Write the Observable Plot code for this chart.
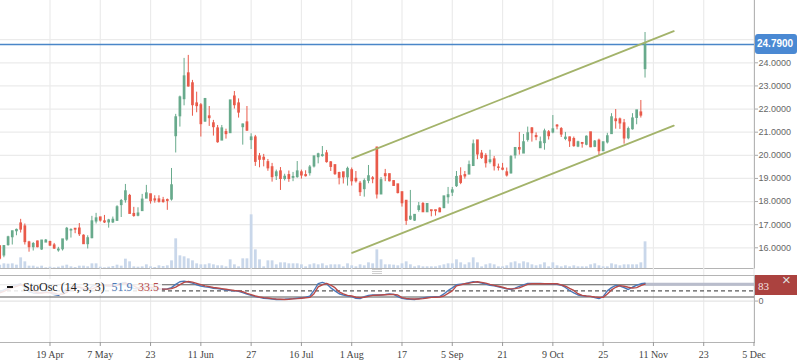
<!DOCTYPE html>
<html>
<head>
<meta charset="utf-8">
<script src="https://cdn.jsdelivr.net/npm/d3@7"></script>
<script src="https://cdn.jsdelivr.net/npm/@observablehq/plot@0.6"></script>
<style>
  html, body { margin: 0; padding: 0; background: #fff; }
  #chart { position: relative; width: 798px; height: 363px; overflow: hidden; background: #fff; }
  #chart svg { position: absolute; left: 0; }
  .badge { position: absolute; box-sizing: border-box; }
  #legend { position: absolute; left: 0; top: 279px; width: 162px; height: 16px; background: rgba(255,255,255,0.85);
            font-family: "Liberation Serif", "Times New Roman", serif; font-size: 12px; line-height: 16px; white-space: nowrap; }
  #legend span { position: absolute; top: 0; }
  #legend .icon { left: 7px; top: 7px; width: 6px; height: 2px; background: #111; }
  #handle { position: absolute; left: 372px; top: 269px; width: 10px; height: 5px;
            background: repeating-linear-gradient(#cfcfcf 0 1px, transparent 1px 2px); }
</style>
</head>
<body>
<div id="chart"></div>
<script>
// ---------------- data ----------------
const opens = [16.06,15.67,16.12,16.46,16.72,17.05,16.92,16.23,16.03,16.27,15.93,16.23,16.25,16.10,15.89,15.94,16.36,16.75,16.82,16.83,
16.52,16.16,16.42,17.14,17.31,17.14,17.10,17.10,17.17,17.85,18.06,18.24,17.46,17.39,17.59,18.13,18.31,18.09,18.09,18.05,
18.06,18.09,20.83,21.69,22.43,23.54,23.11,22.24,22.16,21.46,21.68,21.38,21.16,20.64,21.00,20.96,22.54,22.24,21.22,21.42,
20.66,20.77,19.95,19.89,19.70,19.48,19.10,19.30,18.98,19.14,19.03,19.06,19.26,19.14,19.23,19.52,19.92,19.97,20.08,19.69,
19.57,19.23,19.26,19.05,19.35,18.98,18.77,18.54,18.90,19.00,20.33,18.31,19.18,19.18,18.88,18.74,18.40,18.03,17.23,17.18,
17.64,17.89,17.54,17.62,17.62,17.69,17.72,18.19,18.39,18.67,19.09,19.14,19.17,19.54,20.64,20.07,19.97,19.71,19.82,19.47,
19.42,19.26,19.22,20.00,20.31,20.08,20.67,21.16,20.83,20.31,20.53,20.99,20.99,21.28,21.13,20.71,20.77,20.70,20.38,20.53,
20.46,20.99,20.37,20.63,20.18,20.56,20.92,21.55,21.55,21.38,20.74,21.13,21.62,21.85,23.73];
const highs = [16.10,16.10,16.50,16.72,16.81,17.23,17.03,16.28,16.23,16.29,16.32,16.36,16.28,16.19,16.02,16.36,16.88,16.82,16.82,17.05,
16.56,16.52,17.36,17.49,17.32,17.40,17.23,17.33,17.82,18.09,18.74,18.31,17.75,17.73,18.31,18.70,18.31,18.25,18.25,18.18,
18.11,19.43,21.77,22.56,24.19,24.32,23.24,22.73,22.24,22.46,22.11,21.51,21.29,21.29,21.13,22.37,22.76,22.44,21.35,22.11,
20.93,20.86,20.08,20.04,19.82,19.65,19.36,19.47,19.18,19.32,19.26,19.73,19.36,19.33,19.56,19.95,20.09,20.38,20.21,19.73,
19.57,19.27,19.26,19.49,19.45,19.30,18.87,18.98,19.56,19.08,20.35,19.04,19.39,19.18,18.90,18.74,18.40,18.03,18.48,17.42,
17.96,17.96,17.89,17.62,17.62,17.73,18.22,18.61,18.61,19.30,19.46,19.30,19.75,20.66,20.64,20.21,20.07,20.22,19.95,19.62,
19.65,19.45,19.99,20.34,20.99,20.90,21.22,21.20,20.97,20.79,21.13,21.07,21.72,21.33,21.20,20.99,20.79,20.79,20.61,20.54,
20.84,20.99,20.64,20.70,20.56,20.95,21.80,21.98,21.61,21.55,21.22,21.80,21.94,22.37,25.31];
const lows = [15.46,15.57,16.07,16.12,16.52,16.64,16.12,15.81,15.86,16.00,15.89,16.23,16.06,15.93,15.81,15.86,16.28,16.42,16.61,16.49,
16.16,15.95,16.39,17.03,17.11,17.05,16.85,17.05,17.14,17.31,17.93,17.47,17.32,17.34,17.59,18.13,17.89,17.93,17.93,17.93,
17.62,18.02,20.10,21.22,22.14,22.95,21.69,21.84,20.79,21.43,21.25,20.83,20.52,20.64,20.70,20.96,22.00,21.61,20.44,21.03,
20.25,19.52,19.46,19.50,19.31,18.84,18.91,18.48,18.89,18.83,18.86,19.01,18.97,19.06,19.10,19.45,19.63,19.92,19.66,19.30,
19.13,18.72,18.76,18.67,18.67,18.80,18.22,18.19,18.77,18.77,18.11,18.31,18.86,18.85,18.66,18.33,17.76,16.97,17.18,17.14,
17.54,17.53,17.53,17.34,17.37,17.52,17.69,17.89,18.22,18.61,18.73,18.97,19.17,19.54,19.81,19.82,19.45,19.62,19.32,19.32,
19.33,19.06,19.19,19.84,20.01,20.08,20.57,20.57,20.63,20.31,20.22,20.66,20.93,21.10,20.77,20.63,20.34,20.35,20.33,20.31,
20.41,20.33,20.33,19.97,20.17,20.49,20.92,21.13,21.12,20.48,20.67,21.09,21.32,21.61,23.34];
const closes = [15.53,16.07,16.45,16.71,16.77,16.79,16.25,16.03,16.16,16.03,16.31,16.31,16.10,15.97,15.92,16.36,16.82,16.77,16.79,16.59,
16.16,16.41,17.14,17.27,17.18,17.10,17.18,17.21,17.75,18.02,18.44,17.47,17.38,17.48,18.08,18.35,18.02,18.05,17.99,17.98,
18.03,18.70,21.64,22.50,23.41,22.98,22.17,22.13,21.35,22.43,21.61,21.22,20.57,21.16,20.92,22.37,22.17,21.85,21.33,21.07,
20.77,19.72,19.81,19.81,19.44,19.06,19.26,18.98,19.07,18.98,19.06,19.30,19.13,19.10,19.47,19.95,20.04,20.00,19.71,19.50,
19.19,19.03,19.05,19.41,18.88,18.88,18.41,18.88,19.09,18.97,18.31,18.92,19.10,18.88,18.68,18.37,17.93,17.17,17.34,17.42,
17.79,17.54,17.89,17.59,17.59,17.54,18.22,18.27,18.48,19.06,18.81,19.09,19.57,20.47,20.04,19.89,19.66,19.78,19.53,19.46,
19.38,19.13,19.92,20.31,20.25,20.56,20.95,20.96,20.79,20.56,21.03,20.83,21.12,21.25,20.90,20.76,20.61,20.40,20.56,20.50,
20.80,20.35,20.59,20.18,20.56,20.82,21.64,21.48,21.38,20.73,21.13,21.59,21.94,21.72,24.79];
const volumes = [10,14,13,14,10,32,20,7,7,4,7,2,4,2,4,7,10,5,3,7,
7,5,14,14,4,2,4,6,10,7,28,20,5,4,5,11,5,3,8,6,
8,23,89,38,35,29,23,14,11,11,14,11,8,8,5,26,11,5,29,29,
161,56,26,5,23,23,11,17,17,14,14,14,11,5,11,14,11,14,8,11,
11,11,5,14,8,5,11,8,17,14,56,26,11,11,10,8,14,20,11,5,
8,5,5,5,5,8,11,14,14,26,17,11,17,32,17,5,11,14,11,5,
5,8,17,20,14,20,17,11,8,11,17,5,17,8,5,8,5,8,5,5,
5,11,14,8,5,5,14,11,8,11,11,11,11,17,80];
const stochK = [45,55,65,75,80,85,65,45,40,38,42,45,40,32,28,40,62,68,70,68,
55,52,72,80,78,75,74,76,85,88,92,70,62,60,68,72,65,60,58,58,
60,66,82,95,98,94,88,80,74,70,68,63,61,58,54,52,50,48,42,34,
28,22,18,14,12,10,8,8,9,11,12,14,16,19,24,52,86,92,85,65,
50,36,30,25,22,14,12,22,28,30,30,30,32,35,33,22,13,10,9,8,
12,16,19,20,21,22,35,52,65,80,83,85,90,95,93,89,84,78,75,70,
65,60,57,64,72,80,87,87,87,87,86,85,84,83,78,67,52,40,30,26,
24,23,17,12,22,50,66,77,74,66,57,68,78,85,88];
const stochD = [40,48,58,65,73,80,76,62,50,41,40,42,42,39,33,33,43,57,67,69,
64,58,60,68,77,78,76,75,78,83,88,83,75,64,63,67,68,66,61,59,
59,61,69,81,92,96,93,87,81,75,71,67,64,61,58,55,52,50,46,38,
32,25,20,17,15,12,10,9,8,9,11,12,14,16,18,36,70,80,87,78,
66,45,35,28,25,19,17,19,23,28,29,30,31,32,33,30,17,13,11,10,
10,12,15,18,19,20,25,38,50,75,80,85,88,92,95,92,88,82,77,73,
68,62,60,61,65,74,82,85,86,85,85,85,85,85,80,73,62,52,36,28,
25,23,20,18,18,35,55,68,76,73,68,64,66,76,83];
const tickIndex = [12,24,36,48,60,72,84,96,108,120,132,144,156,168,180];
const tickLabels = ["19 Apr","7 May","23","11 Jun","27","16 Jul","1 Aug","17","5 Sep","21","9 Oct","25","11 Nov","23","5 Dec"];
const priceTicks = [16,17,18,19,20,21,22,23,24,25];
const channelX = [84.1, 160.85];
const channelUpper = [19.87, 25.37];
const channelLower = [15.78, 21.28];
const lastPrice = 24.79;
const stochBands = [80, 20];
const stochMid = [50];
const stochZero = [0];
const legendName = "StoOsc (14, 3, 3)";
const legendValues = [51.9, 33.5];

// ---------------- derived tables ----------------
const candles = opens.map((o, i) => ({i, o, h: highs[i], l: lows[i], c: closes[i], v: volumes[i],
  top: Math.max(o, closes[i]), bot: Math.min(o, closes[i]), up: closes[i] >= o}));
const upC = candles.filter(d => d.up), downC = candles.filter(d => !d.up);
const stochRows = stochK.map((k, i) => ({i, k, d: stochD[i]}));
const labelOf = new Map(tickIndex.map((t, k) => [t, tickLabels[k]]));
const upperPts = channelX.map((x, k) => ({x, y: channelUpper[k]}));
const lowerPts = channelX.map((x, k) => ({x, y: channelLower[k]}));
const lastIdx = candles.length - 1;
// the last-price badge hides the tick label it covers
const labelTicks = priceTicks.filter(t => Math.abs(t - lastPrice) > 0.5);

// ---------------- styling / layout ----------------
const GREEN = "#68aa8c", RED = "#e95a4a", VOL = "#c9d7ea", CHAN = "#a3b36a", PRICE = "#4a86c8";
const KCOL = "#4a78b8", DCOL = "#b84a48", GRID = "#ebebeb", FRAME = "#b4b4b4";
const SANS = "'Liberation Sans', Arial, sans-serif", SERIF = "'Liberation Serif', 'Times New Roman', serif";
const W = 798, MR = 44, MAIN_H = 268;
const xDomain = [0.19, 180.12];
const priceDomain = [15.105, 26.694];
const volDomain = [0, 804];
const stochDomain = [-203.8, 125.8];
const base = {width: W, marginLeft: 0, marginRight: MR,
  x: {domain: xDomain, axis: null, label: null},
  style: {background: "transparent", fontFamily: SANS}};

const root = document.getElementById("chart");
function place(svg, top) { svg.style.top = top + "px"; svg.style.maxWidth = "none"; root.appendChild(svg); return svg; }

// layer 1: price grid, frame, right axis
const gridPlot = Plot.plot({...base, height: MAIN_H + 2, marginTop: 0, marginBottom: 2,
  y: {domain: priceDomain, label: null},
  marks: [
    Plot.ruleY(priceTicks, {stroke: GRID, strokeWidth: 1.2}),
    Plot.ruleX(tickIndex, {stroke: GRID, strokeWidth: 1.2}),
    Plot.frame({stroke: FRAME, insetTop: -2, insetLeft: -2}),
    Plot.axisY(labelTicks, {anchor: "right", tickSize: 3, tickPadding: 1, tickFormat: d => d.toFixed(4),
      fontSize: 9, fontFamily: SANS, fill: "#666", stroke: "#aaa", label: null})
  ]});
place(gridPlot, 0);

// layer 2: volume
const volPlot = Plot.plot({...base, height: MAIN_H, marginTop: 0, marginBottom: 0,
  y: {domain: volDomain, axis: null, label: null},
  marks: [Plot.ruleX(candles, {x: "i", y1: 0, y2: "v", stroke: VOL, strokeWidth: 2.8})]});
place(volPlot, 0);

// layer 3: candles, channel, last price
const candlePlot = Plot.plot({...base, height: MAIN_H, marginTop: 0, marginBottom: 0,
  y: {domain: priceDomain, axis: null, label: null},
  marks: [
    Plot.ruleY([lastPrice], {stroke: PRICE, strokeWidth: 1.4}),
    Plot.ruleX(upC, {x: "i", y1: "h", y2: "l", stroke: GREEN, strokeWidth: 1}),
    Plot.ruleX(downC, {x: "i", y1: "h", y2: "l", stroke: RED, strokeWidth: 1}),
    Plot.ruleX(upC, {x: "i", y1: "top", y2: "bot", stroke: GREEN, strokeWidth: 2.7, insetTop: -0.6, insetBottom: -0.6}),
    Plot.ruleX(downC, {x: "i", y1: "top", y2: "bot", stroke: RED, strokeWidth: 2.7, insetTop: -0.6, insetBottom: -0.6}),
    Plot.line(upperPts, {x: "x", y: "y", stroke: CHAN, strokeWidth: 1.8}),
    Plot.line(lowerPts, {x: "x", y: "y", stroke: CHAN, strokeWidth: 1.8})
  ]});
place(candlePlot, 0);

// layer 4: stochastic oscillator + time axis
const lastD = stochD[lastIdx];
const stochPlot = Plot.plot({...base, height: 95, marginTop: 7, marginBottom: 21,
  y: {domain: stochDomain, label: null},
  marks: [
    Plot.ruleX(tickIndex, {stroke: GRID, strokeWidth: 1.2, insetTop: -7}),
    Plot.ruleY(stochZero, {stroke: "#e4e4e4", strokeWidth: 1.2}),
    Plot.ruleY(stochBands, {stroke: "#595959", strokeWidth: 1.1}),
    Plot.ruleY(stochMid, {stroke: "#595959", strokeWidth: 1.1, strokeDasharray: "4,3"}),
    Plot.ruleY([{x1: lastIdx, x2: xDomain[1], y: lastD}], {x1: "x1", x2: "x2", y: "y", stroke: "#b9bdcc", strokeWidth: 3}),
    Plot.line(stochRows, {x: "i", y: "k", stroke: KCOL, strokeWidth: 1.4}),
    Plot.line(stochRows, {x: "i", y: "d", stroke: DCOL, strokeWidth: 1.4}),
    Plot.frame({stroke: FRAME, insetLeft: -2}),
    Plot.axisY(stochZero, {anchor: "right", tickSize: 3, tickPadding: 1, fontSize: 9, fontFamily: SANS,
      fill: "#666", stroke: "#aaa", label: null}),
    Plot.axisX(tickIndex, {anchor: "bottom", tickSize: 4, tickPadding: 4, tickFormat: t => labelOf.get(t),
      fontSize: 10, fontFamily: SERIF, fill: "#444", stroke: "#999", label: null})
  ]});
place(stochPlot, MAIN_H);

// ---------------- legend, badges, splitter ----------------
const legend = document.createElement("div");
legend.id = "legend";
legend.innerHTML = `<span class="icon"></span><span style="left:23px;color:#222">${legendName}</span>` +
  `<span style="left:111.5px;color:${KCOL}">${legendValues[0].toFixed(1)}</span>` +
  `<span style="left:138px;color:${DCOL}">${legendValues[1].toFixed(1)}</span>`;
root.appendChild(legend);

const handle = document.createElement("div");
handle.id = "handle";
root.appendChild(handle);

const yPrice = candlePlot.scale("y").apply(lastPrice);
const pb = document.createElement("div");
pb.className = "badge";
Object.assign(pb.style, {left: "755px", top: (yPrice - 10) + "px", width: "42px", height: "20px", background: "#4a89d3",
  borderRadius: "3px", color: "#fff", fontFamily: SANS, fontWeight: "bold", fontSize: "10px", lineHeight: "20px", paddingLeft: "2px"});
pb.textContent = lastPrice.toFixed(4);
root.appendChild(pb);

const yD = MAIN_H + stochPlot.scale("y").apply(lastD);
const sb = document.createElement("div");
sb.className = "badge";
Object.assign(sb.style, {left: "755px", top: Math.max(275, yD - 10) + "px", width: "42px", height: "20px", background: "#ab423f",
  color: "#f5e2e2", fontFamily: SERIF, fontSize: "11px", lineHeight: "22px", paddingLeft: "3px"});
sb.innerHTML = `${Math.round(lastD)}<span style="position:absolute;left:27px;top:-5px;font-family:${SANS};font-size:15px;color:#dedede;line-height:20px">×</span>`;
root.appendChild(sb);
</script>
</body>
</html>
